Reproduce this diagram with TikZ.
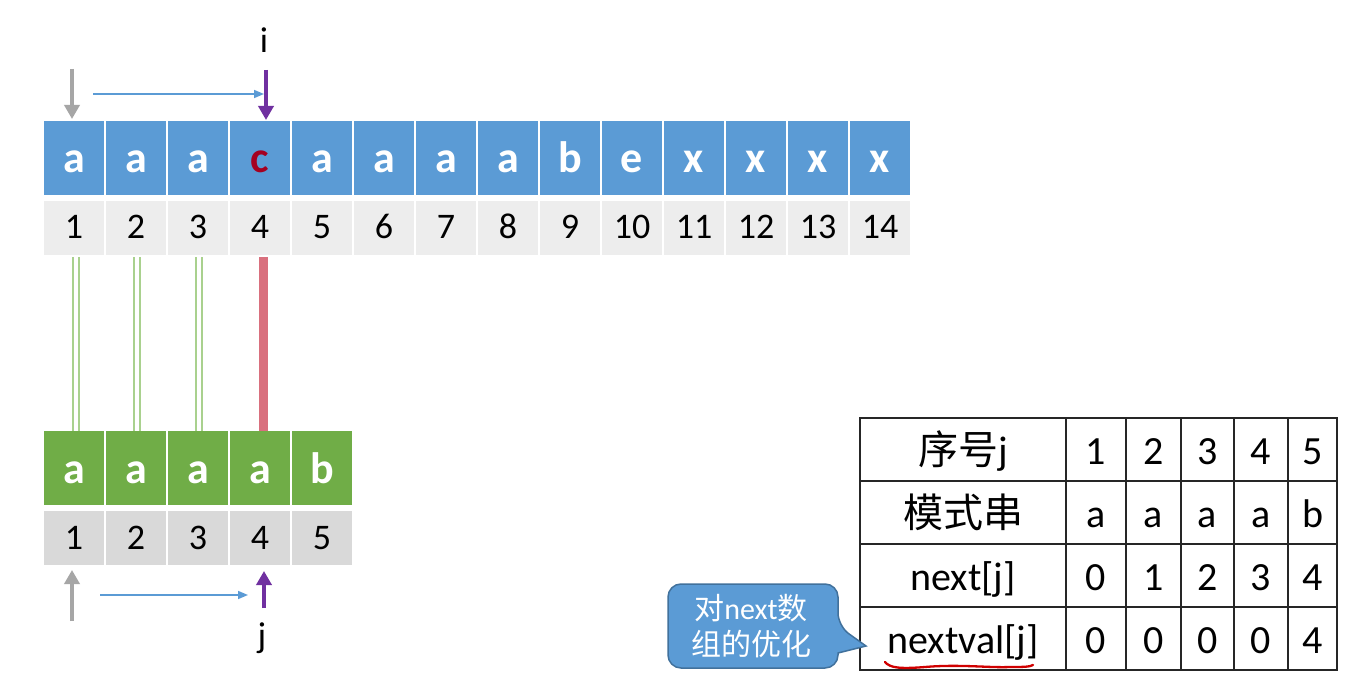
\documentclass[tikz,border=0pt]{standalone}
\usepackage{fontspec}
\setmainfont{Carlito}
\newfontfamily\cjk{Noto Sans CJK SC}
\usetikzlibrary{arrows.meta}
\definecolor{cellblue}{HTML}{5B9BD5}
\definecolor{cellgreen}{HTML}{70AD47}
\definecolor{numlight}{HTML}{EDEDED}
\definecolor{numdark}{HTML}{D9D9D9}
\definecolor{darkred}{HTML}{A50021}
\definecolor{ptrpurple}{HTML}{7030A0}
\definecolor{ptrgray}{HTML}{A6A6A6}
\definecolor{matchgreen}{HTML}{A9D18E}
\definecolor{missred}{HTML}{D9707E}
\definecolor{calloutedge}{HTML}{41719C}
\definecolor{inkred}{HTML}{D00000}
\begin{document}
\begin{tikzpicture}[x=1pt,y=-1pt,
  letterbox/.style={minimum width=60pt, minimum height=74pt, inner sep=0pt, text height=30pt, text depth=0pt, text=white, font=\fontsize{44}{48}\selectfont\bfseries},
  topletter/.style={letterbox, fill=cellblue},
  patletter/.style={letterbox, fill=cellgreen},
  numbox/.style={minimum width=60pt, minimum height=54pt, inner sep=0pt, text height=22pt, text depth=0pt, font=\fontsize{36}{40}\selectfont},
  ptrlabel/.style={inner sep=0pt, font=\fontsize{36}{40}\selectfont},
  bigptr/.style={line width=4pt, -{Triangle[width=15pt,length=14pt]}},
  slideptr/.style={cellblue, line width=1.6pt, -{Triangle[width=8pt,length=10pt]}},
  matchline/.style={draw=matchgreen, double=white, line width=2.3pt, double distance=3.5pt},
  missline/.style={draw=missred, line width=9pt},
  tcell/.style={draw=black!85, line width=1.3pt, inner sep=0pt, minimum height=63pt, text height=30pt, text depth=0pt, font=\fontsize{40}{44}\selectfont},
]
\useasboundingbox (0,0) rectangle (1365,692);
\fill[white] (0,0) rectangle (1365,692);

% main string
\foreach \ch [count=\k] in {a,a,a,{\textcolor{darkred}{c}},a,a,a,a,b,e,x,x,x,x} {
  \node[topletter] (t\k) at ({44+62*(\k-1)+30},158) {\ch};
  \node[numbox, fill=numlight] (tn\k) at ({44+62*(\k-1)+30},228) {\k};
}
% pattern
\foreach \ch [count=\k] in {a,a,a,a,b} {
  \node[patletter] (p\k) at ({44+62*(\k-1)+30},468) {\ch};
  \node[numbox, fill=numdark] (pn\k) at ({44+62*(\k-1)+30},538) {\k};
}

% matching lines
\draw[matchline] ([xshift=2pt,yshift=-2pt]tn1.south) -- ([xshift=2pt]p1.north);
\draw[matchline] ([xshift=1pt,yshift=-2pt]tn2.south) -- ([xshift=1pt]p2.north);
\draw[matchline] ([xshift=1pt,yshift=-2pt]tn3.south) -- ([xshift=1pt]p3.north);
\draw[missline] ([xshift=3pt,yshift=-2pt]tn4.south) -- ([xshift=3pt]p4.north);

% pointer i
\node[ptrlabel] (ilab) at (264,40) {i};
\coordinate (gtop) at (72,69);
\coordinate (gtip) at (72,119);
\coordinate (ptop) at (266,70);
\coordinate (ptip) at (266,120);
\coordinate (s1a) at (93,94);
\coordinate (s1b) at (264,94);
\draw[bigptr, ptrgray] (gtop) -- (gtip);
\draw[bigptr, ptrpurple] (ptop) -- (ptip);
\draw[slideptr] (s1a) -- (s1b);

% pointer j
\node[ptrlabel] (jlab) at (262,638) {j};
\coordinate (gbot) at (72,621);
\coordinate (gup) at (72,570);
\coordinate (pbot) at (264,608);
\coordinate (pup) at (264,571);
\coordinate (s2a) at (100,595);
\coordinate (s2b) at (248,595);
\draw[bigptr, ptrgray] (gbot) -- (gup);
\draw[bigptr, ptrpurple] (pbot) -- (pup);
\draw[slideptr] (s2a) -- (s2b);

% table
\node[tcell, minimum width=206pt] (r1) at (963,449.5) {{\cjk 序号}j};
\node[tcell, minimum width=206pt] (r2) at (963,512.5) {\cjk 模式串};
\node[tcell, minimum width=206pt] (r3) at (963,575.5) {next[j]};
\node[tcell, minimum width=206pt] (r4) at (963,638.5) {nextval[j]};
\foreach \yy/\vals [count=\r] in {449.5/{1,2,3,4,5},512.5/{a,a,a,a,b},575.5/{0,1,2,3,4},638.5/{0,0,0,0,4}} {
  \foreach \v [count=\c] in \vals {
    \pgfmathsetmacro{\cx}{{1096,1153.5,1207.5,1261,1312.5}[\c-1]}
    \pgfmathsetmacro{\cw}{{60,55,53,54,49}[\c-1]}
    \node[tcell, minimum width=\cw pt] (c\r-\c) at (\cx,\yy) {\v};
  }
}

% callout
\fill[cellblue, draw=calloutedge, line width=1.5pt, rounded corners=13pt]
  (668,584) -- (838,584) -- (838,626) [sharp corners] -- (866,646) -- (838,653) [rounded corners=13pt] -- (838,668) -- (668,668) -- cycle;
\node[text=white, align=center, inner sep=0pt, font=\fontsize{30}{36}\selectfont] (callout) at (751,626) {{\cjk 对}next{\cjk 数}\\{\cjk 组的优化}};

% red underline
\draw[inkred, line width=2.3pt, line cap=round]
  (885,662) .. controls (890,668) and (900,669) .. (925,667)
  .. controls (960,664) and (990,668) .. (1010,667)
  .. controls (1022,667) and (1030,667) .. (1033,665);
\end{tikzpicture}
\end{document}
